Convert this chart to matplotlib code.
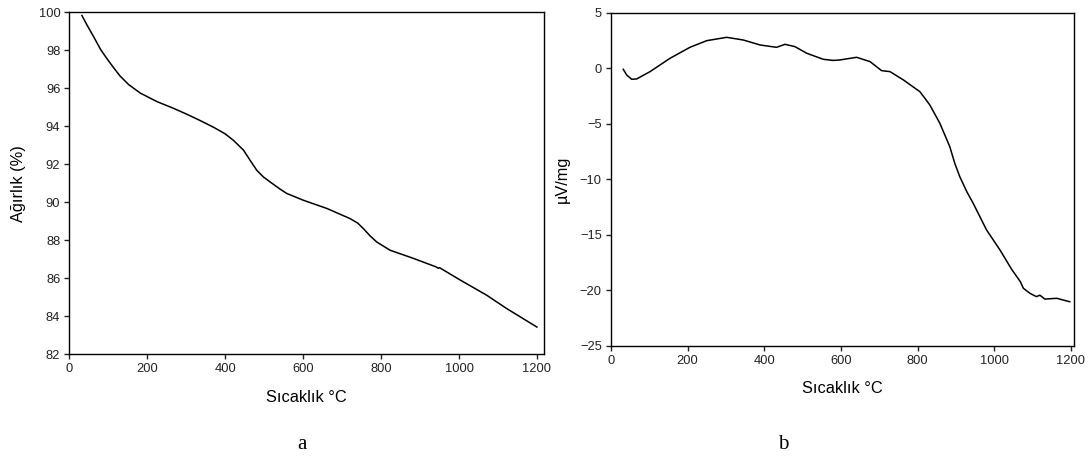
import matplotlib
matplotlib.use("Agg")
import matplotlib.pyplot as plt

plt.rcParams["font.family"] = ["Liberation Sans", "DejaVu Sans"]

# TGA (a): temperature vs weight %
tga_temp = [32, 45, 60, 80, 95, 113, 130, 152, 182, 225, 267, 300, 336, 370, 400,
            421, 447, 464, 481, 498, 515, 540, 558, 601, 661, 720, 740, 755, 772,
            789, 823, 883, 940, 947, 950, 1003, 1071, 1122, 1200]
tga_weight = [99.84, 99.34, 98.8, 98.05, 97.6, 97.1, 96.65, 96.2, 95.75, 95.3, 94.95,
              94.65, 94.3, 93.95, 93.6, 93.26, 92.74, 92.2, 91.68, 91.33, 91.07, 90.7,
              90.46, 90.1, 89.67, 89.14, 88.9, 88.6, 88.22, 87.9, 87.47, 87.04, 86.6,
              86.52, 86.55, 85.9, 85.1, 84.4, 83.42]

# DTA (b): temperature vs uV/mg
dta_temp = [32, 41, 54, 67, 102, 154, 206, 250, 302, 345, 389, 432, 454, 480, 511,
            554, 580, 597, 641, 676, 706, 728, 763, 806, 819, 832, 858, 884, 897,
            910, 928, 945, 980, 1015, 1045, 1068, 1076, 1093, 1110, 1119, 1132,
            1163, 1197]
dta_signal = [-0.10, -0.61, -1.0, -0.97, -0.31, 0.89, 1.88, 2.48, 2.78, 2.54, 2.09,
              1.88, 2.15, 1.94, 1.34, 0.80, 0.70, 0.74, 0.98, 0.59, -0.22, -0.31,
              -1.06, -2.12, -2.71, -3.32, -4.96, -7.07, -8.57, -9.77, -11.1, -12.17,
              -14.58, -16.38, -18.1, -19.23, -19.83, -20.28, -20.58, -20.45, -20.8,
              -20.73, -21.04]

fig = plt.figure(figsize=(10.92, 4.61), dpi=100)
ax1 = fig.add_axes([0.0636, 0.2321, 0.4345, 0.7408])
ax2 = fig.add_axes([0.5595, 0.2501, 0.4240, 0.7224])

ax1.plot(tga_temp, tga_weight, color="black", lw=1.1)
ax1.set(xlim=(0, 1218), ylim=(82, 100))
ax1.set_xticks(range(0, 1201, 200))
ax1.set_yticks(range(82, 101, 2))
ax1.set_xlabel("Sıcaklık °C", fontsize=11.8, labelpad=11)
ax1.set_ylabel("Ağırlık (%)", fontsize=11.8, labelpad=9)

ax2.plot(dta_temp, dta_signal, color="black", lw=1.1)
ax2.set(xlim=(0, 1208), ylim=(-25, 5))
ax2.set_xticks(range(0, 1201, 200))
ax2.set_yticks(range(-25, 6, 5))
ax2.set_xlabel("Sıcaklık °C", fontsize=11.8, labelpad=10)
ax2.set_ylabel("µV/mg", fontsize=11.8, labelpad=7)

for ax in (ax1, ax2):
    ax.tick_params(direction="out", length=3.6, width=1, labelsize=9.3, pad=3,
                   colors="#222222", top=False, right=False)
    for s in ax.spines.values():
        s.set_linewidth(1)

fig.text(0.2766, 0.025, "a", family="Liberation Serif", fontsize=15, ha="center")
fig.text(0.7170, 0.025, "b", family="Liberation Serif", fontsize=15, ha="center")

fig.savefig("out.png", dpi=100)
